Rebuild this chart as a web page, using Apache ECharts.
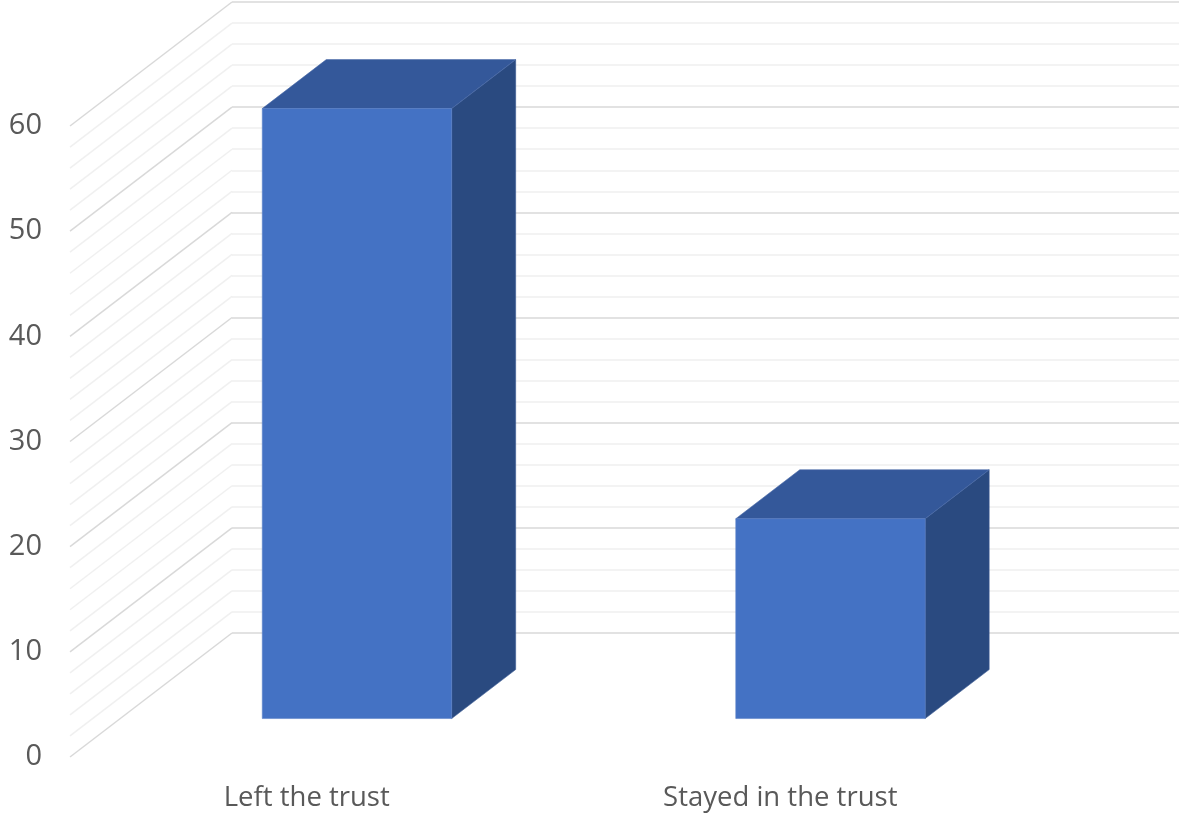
<!DOCTYPE html>
<html>
<head>
<meta charset="utf-8">
<title>Left vs stayed in the trust</title>
<script src="https://cdn.jsdelivr.net/npm/echarts@6/dist/echarts.min.js"></script>
<style>
  html, body { margin: 0; padding: 0; background: #ffffff; }
  #chart { width: 1179px; height: 815px; }
</style>
</head>
<body>
<div id="chart"></div>
<script>
// Chart data
var categories = ['Left the trust', 'Stayed in the trust'];
var values = [58, 19];

// Value axis
var yMin = 0;
var yMax = 60;
var yStep = 10;
var yMinorSplits = 5;

// Oblique "3D" box: the front plane and how far the back wall is shifted
var FRONT = { left: 70, right: 162, top: 126, bottom: 58 };
var DEPTH_DX = 162;
var DEPTH_DY = -124;
// Bars sit between these fractions of the floor depth
var BAR_FRONT = 0.31;
var BAR_BACK = 0.705;
var BAR_WIDTH = 0.4;

var COLORS = {
  front: '#4472C4',
  top: '#34589A',
  side: '#2A4A80',
  major: '#d9d9d9',
  minor: '#f0f0f0',
  text: '#595959'
};

var chart = echarts.init(document.getElementById('chart'), null, { renderer: 'canvas' });

// Side wall: one diagonal per grid line, from the front edge to the back wall
function renderSideWall(params, api) {
  var children = [];
  var step = yStep / yMinorSplits;
  var n = Math.round((yMax - yMin) / step);
  for (var i = 0; i <= n; i++) {
    var v = yMin + i * step;
    var p = api.coord([0, v]);
    var x0 = params.coordSys.x;
    var isMajor = Math.abs(v % yStep) < 1e-9;
    children.push({
      type: 'line',
      shape: { x1: x0, y1: p[1], x2: x0 + DEPTH_DX, y2: p[1] + DEPTH_DY },
      style: { stroke: isMajor ? COLORS.major : COLORS.minor, lineWidth: 1.5 },
      silent: true
    });
  }
  return { type: 'group', children: children };
}

// Box-shaped bar: front face, top face and right side face
function renderBar(params, api) {
  var idx = api.value(0);
  var val = api.value(1);
  var base = api.coord([idx, 0]);
  var top = api.coord([idx, val]);
  var band = api.size([1, 0])[0];
  var w = band * BAR_WIDTH;
  var fx = BAR_FRONT * DEPTH_DX, fy = BAR_FRONT * DEPTH_DY;
  var dx = (BAR_BACK - BAR_FRONT) * DEPTH_DX, dy = (BAR_BACK - BAR_FRONT) * DEPTH_DY;
  var x0 = base[0] - w / 2 + fx;
  var x1 = base[0] + w / 2 + fx;
  var yB = base[1] + fy;
  var yT = top[1] + fy;
  return {
    type: 'group',
    children: [
      {
        type: 'polygon',
        shape: { points: [[x1, yT], [x1 + dx, yT + dy], [x1 + dx, yB + dy], [x1, yB]] },
        style: { fill: COLORS.side, stroke: '#3a5a94', lineWidth: 0.6 }
      },
      {
        type: 'polygon',
        shape: { points: [[x0, yT], [x1, yT], [x1 + dx, yT + dy], [x0 + dx, yT + dy]] },
        style: { fill: COLORS.top, stroke: '#4a6aa8', lineWidth: 0.6 }
      },
      {
        type: 'rect',
        shape: { x: x0, y: yT, width: x1 - x0, height: yB - yT },
        style: { fill: COLORS.front, stroke: '#5b82c8', lineWidth: 0.6 }
      }
    ]
  };
}

var barData = values.map(function (v, i) { return [i, v]; });

chart.setOption({
  backgroundColor: '#ffffff',
  animation: false,
  grid: [
    // back wall
    {
      left: FRONT.left + DEPTH_DX,
      right: FRONT.right - DEPTH_DX,
      top: FRONT.top + DEPTH_DY,
      bottom: FRONT.bottom - DEPTH_DY
    },
    // front plane
    {
      left: FRONT.left,
      right: FRONT.right,
      top: FRONT.top,
      bottom: FRONT.bottom
    }
  ],
  xAxis: [
    {
      gridIndex: 0,
      type: 'category',
      data: categories,
      show: false
    },
    {
      gridIndex: 1,
      type: 'category',
      data: categories,
      axisLine: { show: false },
      axisTick: { show: false },
      splitLine: { show: false },
      axisLabel: {
        margin: 27,
        fontFamily: '"Open Sans", "Noto Sans", sans-serif',
        fontSize: 27.5,
        color: COLORS.text
      }
    }
  ],
  yAxis: [
    {
      gridIndex: 0,
      type: 'value',
      min: yMin,
      max: yMax,
      interval: yStep,
      axisLine: { show: false },
      axisTick: { show: false },
      axisLabel: { show: false },
      splitLine: { show: true, lineStyle: { color: COLORS.major, width: 1.5 } },
      minorTick: { show: false, splitNumber: yMinorSplits },
      minorSplitLine: { show: true, lineStyle: { color: COLORS.minor, width: 1.5 } }
    },
    {
      gridIndex: 1,
      type: 'value',
      min: yMin,
      max: yMax,
      interval: yStep,
      axisLine: { show: false },
      axisTick: { show: false },
      splitLine: { show: false },
      axisLabel: {
        margin: 28,
        fontFamily: '"Open Sans", "Noto Sans", sans-serif',
        fontSize: 29,
        color: COLORS.text
      }
    }
  ],
  series: [
    {
      type: 'custom',
      name: 'side wall',
      xAxisIndex: 1,
      yAxisIndex: 1,
      silent: true,
      z: 1,
      data: [[0, 0]],
      renderItem: renderSideWall,
      clip: false
    },
    {
      type: 'custom',
      name: 'bars',
      xAxisIndex: 1,
      yAxisIndex: 1,
      z: 5,
      data: barData,
      encode: { x: 0, y: 1 },
      renderItem: renderBar,
      clip: false
    }
  ]
});
</script>
</body>
</html>
